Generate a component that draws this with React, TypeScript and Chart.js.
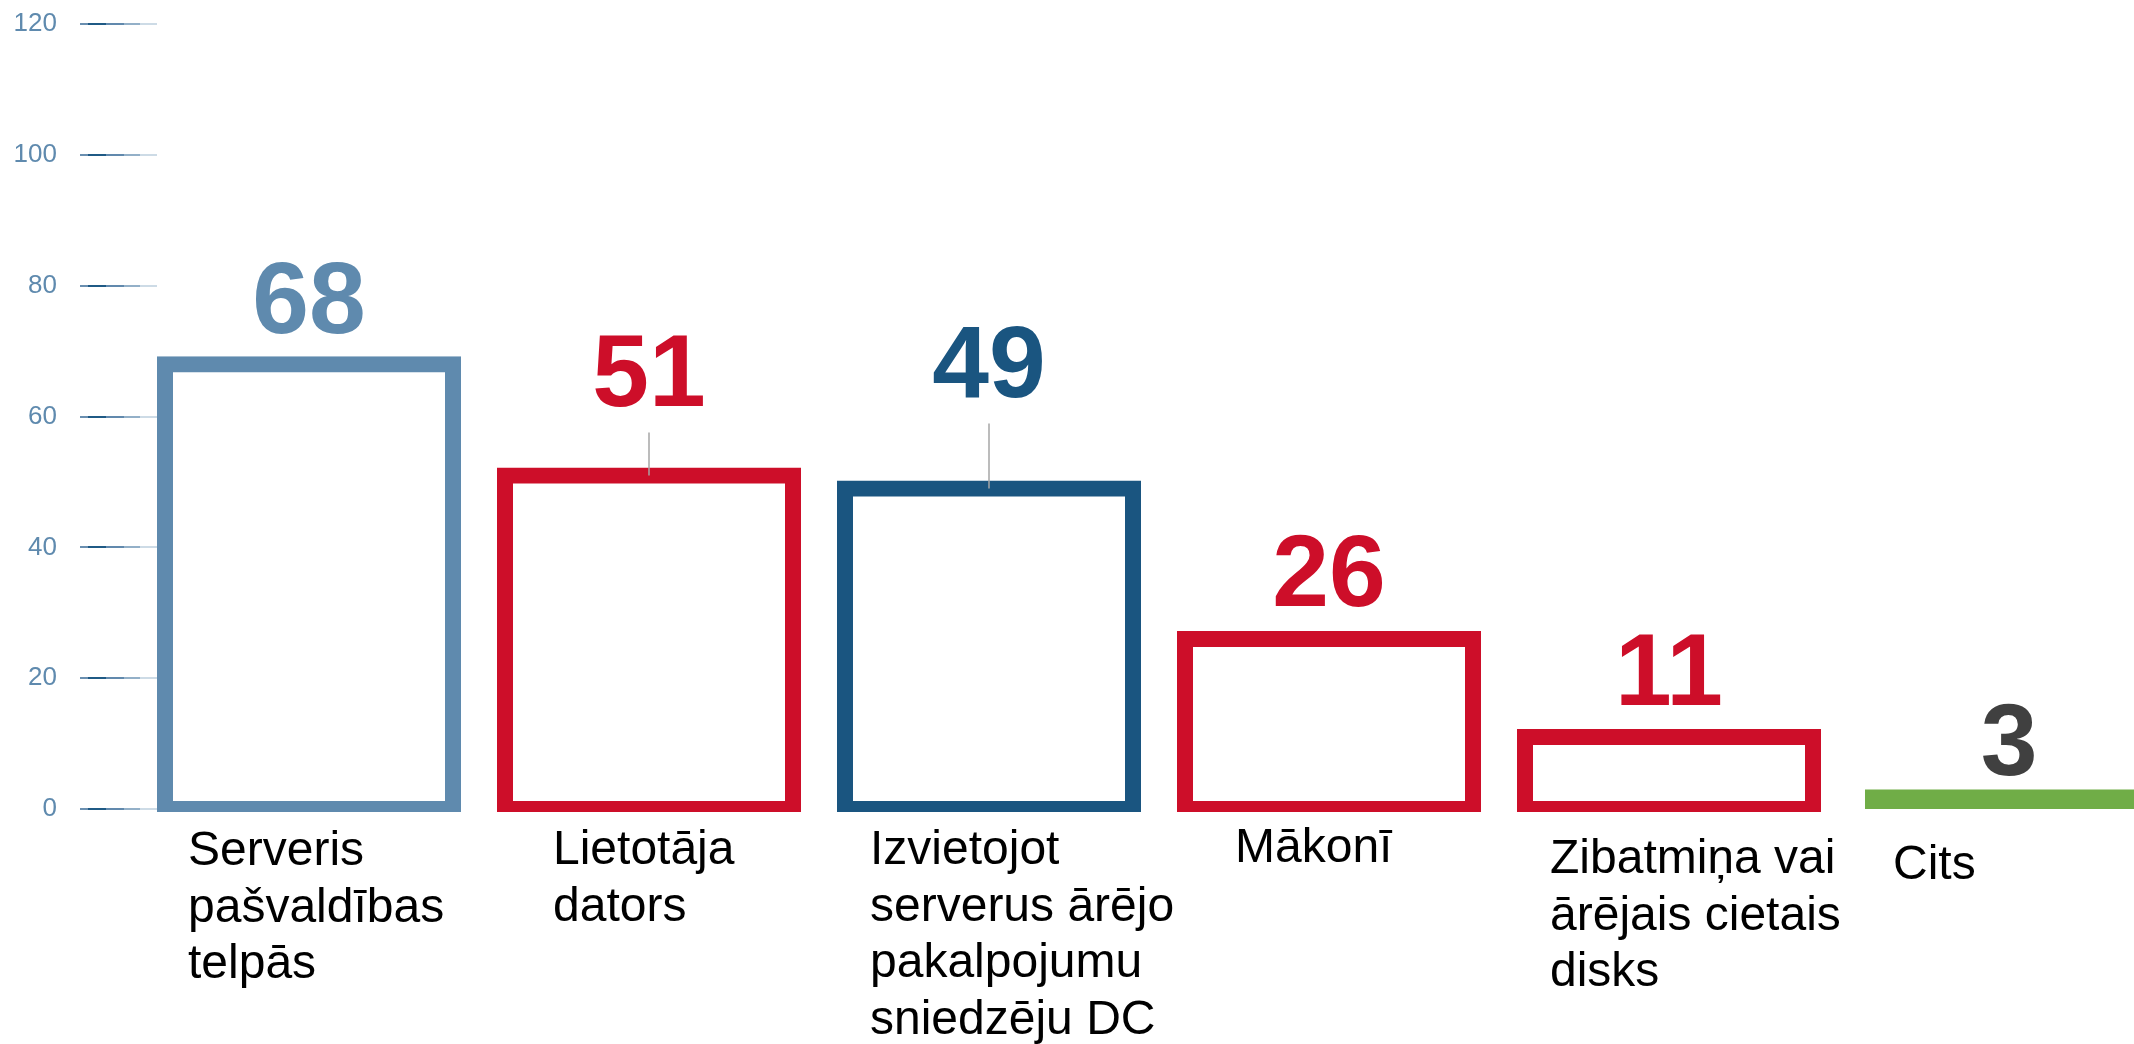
import { useEffect, useRef } from "react";
import { Chart, registerables } from "chart.js";

Chart.register(...registerables);

// ---- data ----
const CATEGORIES: string[][] = [
  ["Serveris", "pašvaldības", "telpās"],
  ["Lietotāja", "dators"],
  ["Izvietojot", "serverus ārējo", "pakalpojumu", "sniedzēju DC"],
  ["Mākonī"],
  ["Zibatmiņa vai", "ārējais cietais", "disks"],
  ["Cits"],
];
const VALUES: number[] = [68, 51, 49, 26, 11, 3];
const Y_MIN = 0;
const Y_MAX = 120;
const Y_STEP = 20;

// ---- styles ----
const STEEL = "#5f8aae";
const RED = "#cd0e29";
const NAVY = "#1a5580";
const GREEN = "#70ad47";
const DARK = "#404040";
const FONT = '"Liberation Sans", Arial, Helvetica, sans-serif';

const BAR_COLORS = [STEEL, RED, NAVY, RED, RED, GREEN];
const BAR_FILLED = [false, false, false, false, false, true];
const LABEL_COLORS = [STEEL, RED, NAVY, RED, RED, DARK];
const LABEL_LIFT = [31, 69, 91, 33, 32, 14];
const HAS_LEADER = [false, true, true, false, false, false];
const CAT_DX = [-121, -96, -119, -94, -119, -116];
const CAT_DY = [56, 55, 55, 53, 64, 70];
const CAT_LINE = 56.5;

const W = 2179;
const H = 1044;
const X_AXIS_H = 235;
const Y_AXIS_W = 139;

const tickMarks = {
  id: "tickMarks",
  beforeDatasetsDraw(chart: any) {
    const y = chart.scales.y;
    const { ctx, chartArea } = chart;
    const x0 = chartArea.left - 59;
    const x1 = chartArea.left + 18;
    const g = ctx.createLinearGradient(x0, 0, x1, 0);
    const c1 = "#6a8fb0", c2 = "#1f5a85", c3 = "#6189ad", c4 = "#93b0c8", c5 = "#cddbe6";
    g.addColorStop(0, c1); g.addColorStop(0.11, c1);
    g.addColorStop(0.11, c2); g.addColorStop(0.34, c2);
    g.addColorStop(0.34, c3); g.addColorStop(0.57, c3);
    g.addColorStop(0.57, c4); g.addColorStop(0.78, c4);
    g.addColorStop(0.78, c5); g.addColorStop(1, c5);
    ctx.save();
    ctx.strokeStyle = g;
    ctx.lineWidth = 2;
    y.ticks.forEach((_t: any, i: number) => {
      const py = Math.round(y.getPixelForTick(i));
      ctx.beginPath();
      ctx.moveTo(x0, py);
      ctx.lineTo(x1, py);
      ctx.stroke();
    });
    ctx.restore();
  },
};

const valueLabels = {
  id: "valueLabels",
  afterDatasetsDraw(chart: any) {
    const { ctx } = chart;
    const meta = chart.getDatasetMeta(0);
    ctx.save();
    meta.data.forEach((bar: any, i: number) => {
      const { x, y } = bar.getProps(["x", "y"], true);
      const base = y - LABEL_LIFT[i];
      if (HAS_LEADER[i]) {
        ctx.strokeStyle = "#a6a6a6";
        ctx.lineWidth = 1.5;
        ctx.beginPath();
        ctx.moveTo(x, base + 26);
        ctx.lineTo(x, y);
        ctx.stroke();
      }
      ctx.font = `bold 102px ${FONT}`;
      ctx.textAlign = "center";
      ctx.textBaseline = "alphabetic";
      ctx.fillStyle = LABEL_COLORS[i];
      ctx.fillText(String(VALUES[i]), x, base);
    });
    ctx.restore();
  },
};

const categoryLabels = {
  id: "categoryLabels",
  afterDraw(chart: any) {
    const { ctx, chartArea } = chart;
    const xs = chart.scales.x;
    ctx.save();
    ctx.font = `48px ${FONT}`;
    ctx.textAlign = "left";
    ctx.textBaseline = "alphabetic";
    ctx.fillStyle = "#000000";
    CATEGORIES.forEach((lines, i) => {
      const cx = xs.getPixelForValue(i);
      lines.forEach((ln, j) => {
        ctx.fillText(ln, cx + CAT_DX[i], chartArea.bottom + CAT_DY[i] + j * CAT_LINE);
      });
    });
    ctx.restore();
  },
};

export default function App() {
  const ref = useRef<HTMLCanvasElement | null>(null);

  useEffect(() => {
    document.body.style.margin = "0";
    document.body.style.overflow = "hidden";
    const canvas = ref.current;
    if (!canvas) return;
    const chart = new Chart(canvas, {
      type: "bar",
      data: {
        labels: CATEGORIES.map((l) => l.join(" ")),
        datasets: [
          {
            data: VALUES,
            backgroundColor: (c: any) => (BAR_FILLED[c.dataIndex] ? BAR_COLORS[c.dataIndex] : "#ffffff"),
            borderColor: (c: any) => BAR_COLORS[c.dataIndex],
            borderWidth: (c: any) => (BAR_FILLED[c.dataIndex] ? 0 : 16),
            inflateAmount: (c: any) => (BAR_FILLED[c.dataIndex] ? 0 : 8),
            borderSkipped: false,
            categoryPercentage: 288 / 340,
            barPercentage: 1,
            clip: { left: false, top: false, right: false, bottom: 3 },
          } as any,
        ],
      },
      options: {
        responsive: false,
        maintainAspectRatio: false,
        animation: false,
        devicePixelRatio: 1,
        layout: { padding: { top: 24, left: 0, right: 0, bottom: 0 } },
        plugins: {
          legend: { display: false },
          tooltip: { enabled: false },
          title: { display: false },
        },
        scales: {
          x: {
            type: "category",
            grid: { display: false, drawTicks: false },
            border: { display: false },
            ticks: { display: false },
            afterFit: (s: any) => {
              s.height = X_AXIS_H;
              s.paddingLeft = 0;
              s.paddingRight = 0;
            },
          },
          y: {
            type: "linear",
            min: Y_MIN,
            max: Y_MAX,
            ticks: {
              stepSize: Y_STEP,
              color: STEEL,
              font: { family: FONT, size: 26 },
              padding: 82,
            },
            grid: { display: false, drawTicks: false },
            border: { display: false },
            afterFit: (s: any) => {
              s.width = Y_AXIS_W;
              s.paddingTop = 14;
              s.paddingBottom = 14;
            },
          },
        },
      } as any,
      plugins: [tickMarks, valueLabels, categoryLabels],
    });
    return () => chart.destroy();
  }, []);

  return (
    <div style={{ width: 2134, height: 1044, overflow: "hidden", position: "relative", background: "#ffffff" }}>
      <canvas ref={ref} width={W} height={H} style={{ width: W, height: H, display: "block" }} />
    </div>
  );
}
